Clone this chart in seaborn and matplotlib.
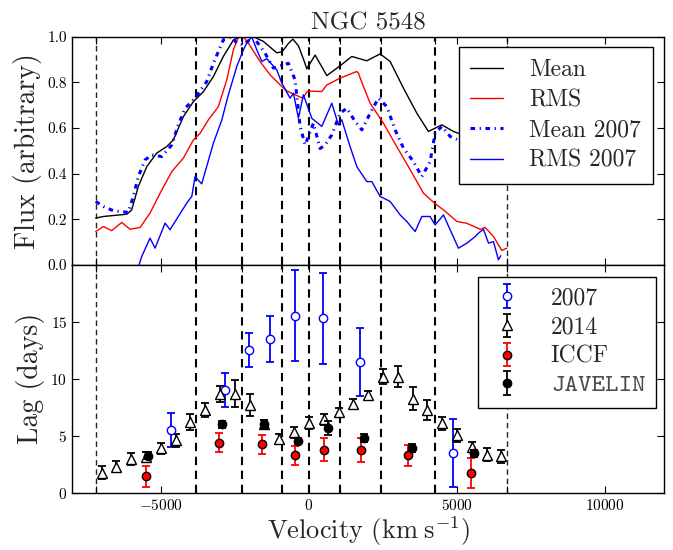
import numpy as np
import pandas as pd
import matplotlib
matplotlib.use("Agg")
import matplotlib.pyplot as plt
import seaborn as sns

# ---------------- data ----------------
# bin edges (dashed vertical lines), km/s
edges = [-7200, -3800, -2250, -900, 0, 1050, 2450, 4250, 6700]

# Mean spectrum (black)
mean_v = [-7200, -6940, -6150, -5985, -5760, -5475, -5140, -4800, -4577, -4240, -3900, -3560,
          -3225, -2890, -2550, -2325, -2100, -1870, -1537, -1085, -900, -700, -540, -350, -150,
          -72, 210, 605, 1054, 1450, 1955, 2405, 2743, 3193, 3645, 4036, 4490, 4880, 5200]
mean_f = [0.205, 0.212, 0.222, 0.241, 0.344, 0.431, 0.49, 0.519, 0.548, 0.65, 0.716, 0.76,
          0.826, 0.914, 0.986, 1.0, 1.0, 1.0, 0.98, 0.93, 0.935, 0.97, 0.99, 0.96, 0.89,
          0.86, 0.92, 0.83, 0.873, 0.914, 0.895, 0.925, 0.892, 0.775, 0.665, 0.585, 0.614, 0.585, 0.57]

# RMS spectrum (red)
rms_v = [-7200, -6940, -6660, -6320, -6040, -5700, -5365, -5026, -4630, -4240, -3900, -3675,
         -3395, -3057, -2775, -2550, -2380, -2210, -2043, -1650, -1310, -915, -747, -450, -200,
         -60, 40, 435, 605, 1054, 1617, 1673, 1842, 2067, 2517, 2968, 3420, 3870, 4262, 4545,
         5000, 5335, 5785, 5950, 6233, 6515, 6685]
rms_f = [0.146, 0.168, 0.15, 0.186, 0.156, 0.164, 0.227, 0.314, 0.409, 0.468, 0.548, 0.577,
         0.636, 0.694, 0.811, 0.943, 1.0, 1.0, 0.972, 0.892, 0.833, 0.782, 0.763, 0.745, 0.731,
         0.76, 0.762, 0.76, 0.789, 0.819, 0.848, 0.84, 0.782, 0.709, 0.621, 0.518, 0.417, 0.314,
         0.268, 0.241, 0.19, 0.182, 0.156, 0.164, 0.124, 0.063, 0.073]

# Mean 2007 (blue dash-dot)
m07_v = [-7200, -6940, -6600, -6100, -5930, -5760, -5535, -5310, -4970, -4630, -4410, -4180,
         -3845, -3450, -3225, -2890, -2605, -2435, -2212, -1875, -1480, -1200, -693, -466, -297,
         -128, -17, 152, 378, 547, 773, 1054, 1280, 1560, 1787, 2067, 2348, 2630, 2912, 3193,
         3530, 3813, 4094, 4262, 4490, 4770, 5000]
m07_f = [0.278, 0.256, 0.237, 0.23, 0.3, 0.387, 0.46, 0.482, 0.475, 0.526, 0.614, 0.687,
         0.731, 0.804, 0.884, 0.987, 1.0, 0.972, 0.965, 1.0, 0.928, 0.863, 0.884, 0.811, 0.607,
         0.526, 0.563, 0.621, 0.51, 0.526, 0.57, 0.665, 0.687, 0.629, 0.592, 0.665, 0.731, 0.694,
         0.592, 0.512, 0.453, 0.387, 0.453, 0.578, 0.607, 0.563, 0.55]

# RMS 2007 (blue solid)
r07_v = [-5735, -5645, -5365, -5195, -4857, -4690, -4410, -4125, -3955, -3845, -3620, -3225,
         -2940, -2720, -2435, -2212, -2100, -1930, -1760, -1590, -1420, -1085, -915, -635, -523,
         -355, -186, 98, 435, 773, 997, 1110, 1390, 1617, 1955, 2125, 2405, 2743, 3080, 3307,
         3587, 3813, 4094, 4262, 4545, 4770, 5050, 5335, 5615, 5725, 5895, 6065, 6233, 6400, 6480]
r07_f = [0.0, 0.037, 0.117, 0.073, 0.183, 0.154, 0.212, 0.271, 0.3, 0.387, 0.355, 0.534,
         0.636, 0.746, 0.87, 0.943, 0.972, 1.0, 0.943, 0.892, 0.904, 0.855, 0.797, 0.731, 0.753,
         0.643, 0.746, 0.643, 0.607, 0.709, 0.614, 0.636, 0.519, 0.431, 0.365, 0.365, 0.3, 0.278,
         0.219, 0.19, 0.146, 0.212, 0.212, 0.175, 0.219, 0.154, 0.073, 0.095, 0.124, 0.139, 0.156,
         0.095, 0.102, 0.022, 0.04]

# Lags: 2007
lag07_v = [-4655, -2830, -2020, -1310, -466, 490, 1730, 4880]
lag07 = [5.5, 9.0, 12.55, 13.5, 15.55, 15.3, 11.5, 3.5]
lag07_err = [1.5, 1.5, 1.5, 2.0, 4.0, 4.0, 3.0, 3.0]

# Lags: 2014
lag14_v = [-7000, -6500, -6000, -5500, -5000, -4500, -4000, -3500, -3000, -2500, -2000, -1500,
           -1000, -500, 0, 500, 1000, 1500, 2000, 2500, 3000, 3500, 4000, 4500, 5000, 5500,
           6000, 6500]
lag14 = [1.75, 2.3, 2.95, 3.15, 3.9, 4.6, 6.2, 7.25, 8.7, 8.7, 7.7, 6.0, 4.7, 5.3, 6.1, 6.45,
         7.05, 7.8, 8.6, 10.2, 10.2, 8.25, 7.25, 6.1, 5.05, 4.05, 3.35, 3.2]
lag14_err = [0.58, 0.5, 0.5, 0.47, 0.5, 0.6, 0.67, 0.6, 0.7, 1.2, 0.93, 0.4, 0.46, 0.5, 0.54,
             0.46, 0.43, 0.4, 0.35, 0.65, 0.95, 1.0, 0.87, 0.55, 0.55, 0.45, 0.6, 0.55]

# Lags: ICCF (red)
iccf_v = [-5500, -3030, -1590, -455, 525, 1750, 3360, 5480]
iccf = [1.45, 4.4, 4.26, 3.28, 3.77, 3.77, 3.28, 1.74]
iccf_err = [0.9, 0.83, 0.84, 0.8, 1.0, 1.05, 0.94, 1.3]

# Lags: JAVELIN (black)
jav_v = [-5420, -2920, -1510, -355, 640, 1865, 3475, 5560]
jav = [3.25, 6.0, 6.03, 4.55, 5.7, 4.84, 3.9, 3.48]
jav_err = [0.3, 0.3, 0.4, 0.3, 0.6, 0.35, 0.35, 0.3]

# ---------------- style ----------------
sns.set_style("ticks")
plt.rcParams.update({
    "font.family": ["serif"],
    "font.serif": ["cmr10", "DejaVu Serif"],
    "mathtext.fontset": "cm",
    "axes.formatter.use_mathtext": True,
    "axes.unicode_minus": True,
    "xtick.direction": "in",
    "ytick.direction": "in",
    "xtick.top": True,
    "ytick.right": True,
    "xtick.major.size": 5,
    "ytick.major.size": 5,
    "xtick.minor.size": 5,
    "xtick.major.width": 0.8,
    "xtick.minor.width": 0.8,
    "ytick.major.width": 0.8,
    "xtick.labelsize": 11,
    "ytick.labelsize": 11,
    "axes.edgecolor": "black",
    "axes.linewidth": 1.0,
    "xtick.color": "black",
    "ytick.color": "black",
})

fig, (ax1, ax2) = plt.subplots(2, 1, sharex=True, figsize=(6.73, 5.5), dpi=100)
fig.subplots_adjust(left=0.107, right=0.987, top=0.933, bottom=0.104, hspace=0)

# ---------------- top panel ----------------
sns.lineplot(x=mean_v, y=mean_f, ax=ax1, color="k", lw=1.0, sort=False, estimator=None, label="Mean")
sns.lineplot(x=rms_v, y=rms_f, ax=ax1, color="r", lw=1.0, sort=False, estimator=None, label="RMS")
sns.lineplot(x=m07_v, y=m07_f, ax=ax1, color="b", lw=2.2, sort=False, estimator=None,
             label="Mean 2007", dashes=False)
ax1.lines[-1].set_linestyle((0, (1.5, 1.5, 0.4, 1.5)))
sns.lineplot(x=r07_v, y=r07_f, ax=ax1, color="b", lw=1.0, sort=False, estimator=None, label="RMS 2007")

for ax in (ax1, ax2):
    for i, e in enumerate(edges):
        outer = i in (0, len(edges) - 1)
        ax.axvline(e, color="k", lw=1.0 if outer else 1.5, alpha=0.85 if outer else 1.0,
                   linestyle=(0, (4, 2.7)), zorder=1)

ax1.set_xlim(-8000, 12000)
ax1.set_ylim(0, 1.0)
ax1.set_yticks([0.0, 0.2, 0.4, 0.6, 0.8, 1.0])
ax1.set_yticklabels(["0.0", "0.2", "0.4", "0.6", "0.8", "1.0"])
ax1.set_ylabel("Flux (arbitrary)", fontsize=20)
ax1.set_title("NGC 5548", fontsize=18, pad=5)
ax1.set_xlabel("")
leg1 = ax1.legend(loc="upper right", bbox_to_anchor=(0.981, 0.956), borderaxespad=0,
                  fontsize=17, frameon=True, fancybox=False, edgecolor="k", framealpha=1,
                  handlelength=1.4, handletextpad=1.1, labelspacing=0.35, borderpad=0.5)
leg1.get_frame().set_linewidth(1.0)

# ---------------- bottom panel ----------------
ax2.errorbar(lag07_v, lag07, yerr=lag07_err, fmt="o", color="b", mfc="white", mec="b",
             ms=6, capsize=3, elinewidth=1.3, capthick=1.3, label="2007", zorder=3)
ax2.errorbar(lag14_v, lag14, yerr=lag14_err, fmt="^", color="k", mfc="white", mec="k",
             ms=6.5, capsize=3, elinewidth=1.3, capthick=1.3, label="2014", zorder=3)
ax2.errorbar(iccf_v, iccf, yerr=iccf_err, fmt="o", color="r", mfc="r", mec="k",
             ms=6, capsize=3, elinewidth=1.3, capthick=1.3, label="ICCF", zorder=4)
ax2.errorbar(jav_v, jav, yerr=jav_err, fmt="o", color="k", mfc="k", mec="k",
             ms=6, capsize=3, elinewidth=1.3, capthick=1.3, label="JAVELIN", zorder=4)

ax2.set_ylim(0, 20)
ax2.set_yticks([0, 5, 10, 15])
ax2.set_xticks([-5000, 0, 5000, 10000])
ax2.set_xticks(edges, minor=True)
ax2.set_ylabel("Lag (days)", fontsize=20)
ax2.set_xlabel(r"Velocity $(\mathrm{km\;s^{-1}})$", fontsize=19, labelpad=1)
leg2 = ax2.legend(loc="upper right", bbox_to_anchor=(0.986, 0.948), borderaxespad=0,
                  fontsize=17, frameon=True, fancybox=False, edgecolor="k", framealpha=1,
                  numpoints=1, handlelength=1.6, handletextpad=1.05, labelspacing=0.3, borderpad=0.45)
leg2.get_frame().set_linewidth(1.0)
leg2.get_texts()[3].set_fontfamily(["cmtt10", "DejaVu Sans Mono"])
leg2.get_texts()[3].set_fontsize(18.5)
leg2.get_texts()[3].set_color("0.3")

for ax in (ax1, ax2):
    ax.tick_params(axis="x", which="both", top=True, bottom=True, direction="in")
    ax.tick_params(axis="y", which="both", left=True, right=True, direction="in")

fig.savefig("out.png", dpi=100)
